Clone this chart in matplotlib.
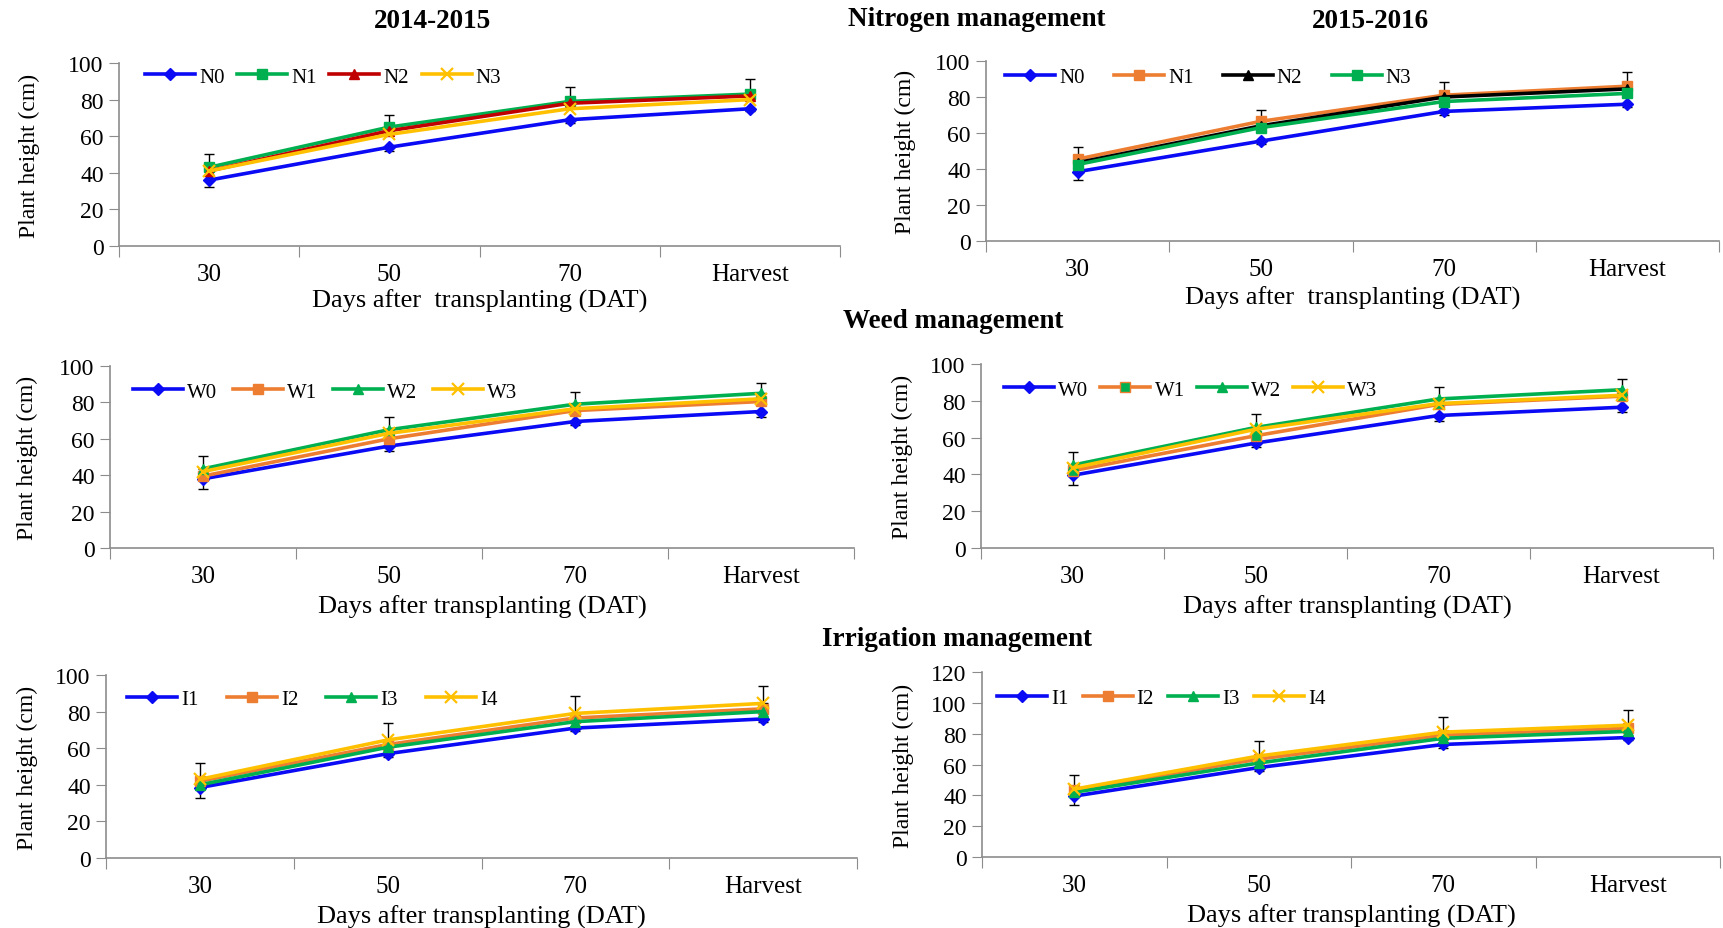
import matplotlib
matplotlib.use("Agg")
import matplotlib.pyplot as plt
import numpy as np

plt.rcParams['font.family'] = ['Liberation Serif', 'DejaVu Serif']

# ---------------- data ----------------
categories = ["30", "50", "70", "Harvest"]

# Nitrogen management 2014-2015
n14_N0 = [36, 54, 69, 75]
n14_N1 = [43, 65, 79, 83]
n14_N2 = [41, 63, 78, 82]
n14_N3 = [41, 61, 75, 80]
n14_err_up = [7.5, 6.5, 8, 8.5]
n14_err_low = [3.5, 2, 2, 1.5]

# Nitrogen management 2015-2016
n15_N0 = [38.5, 55.5, 72, 76]
n15_N1 = [45.5, 66.5, 81, 86]
n15_N2 = [43.5, 64, 80, 84.5]
n15_N3 = [42.5, 63, 77.5, 82]
n15_err_up = [7, 6.5, 7.5, 8]
n15_err_low = [4.5, 1.5, 2, 1.5]

# Weed management 2014-2015
w14_W0 = [38, 56, 69.5, 75]
w14_W1 = [39.5, 60, 75.5, 80.5]
w14_W2 = [43.5, 65, 79, 85]
w14_W3 = [42, 63, 76.5, 82]
w14_err_up = [7, 7, 6.5, 5.5]
w14_err_low = [5.5, 2.5, 2, 2.8]

# Weed management 2015-2016
w15_W0 = [39.5, 57, 72, 76.5]
w15_W1 = [42, 61, 78, 82.5]
w15_W2 = [45, 65.5, 81, 86]
w15_W3 = [43.5, 64.5, 78.5, 83]
w15_err_up = [7, 7.5, 6.5, 6]
w15_err_low = [5.5, 2, 3, 2.5]

# Irrigation management 2014-2015
i14_I1 = [38.5, 57, 71, 76]
i14_I2 = [42, 62, 76.5, 81.5]
i14_I3 = [40, 60.5, 74.5, 80]
i14_I4 = [43, 64.5, 79, 84.5]
i14_err_up = [9, 9.5, 9.5, 9.5]
i14_err_low = [5.5, 2, 1.5, 1.5]

# Irrigation management 2015-2016
i15_I1 = [39.5, 58, 73, 77.5]
i15_I2 = [43.5, 63.5, 79, 83.5]
i15_I3 = [42, 61, 77, 81.5]
i15_I4 = [44, 65.5, 81, 85.5]
i15_err_up = [9.5, 9.5, 9.5, 10]
i15_err_low = [5.5, 2, 2, 1.5]

n_labels = ["N0", "N1", "N2", "N3"]
w_labels = ["W0", "W1", "W2", "W3"]
i_labels = ["I1", "I2", "I3", "I4"]

# ---------------- styles ----------------
BLUE = "#0A0AF5"
GREEN = "#00B050"
RED = "#C00000"
GOLD = "#FFC000"
ORANGE = "#ED7D31"
BLACK = "#000000"
GRAY = "#8C8C8C"

# (line color, marker, face color)
st_n14 = [(BLUE, "D", BLUE), (GREEN, "s", GREEN), (RED, "^", RED), (GOLD, "x", GOLD)]
st_n15 = [(BLUE, "D", BLUE), (ORANGE, "s", ORANGE), (BLACK, "^", BLACK), (GREEN, "s", GREEN)]
st_w14 = [(BLUE, "D", BLUE), (ORANGE, "s", ORANGE), (GREEN, "^", GREEN), (GOLD, "x", GOLD)]
st_w15 = [(BLUE, "D", BLUE), (ORANGE, "s", GREEN), (GREEN, "^", GREEN), (GOLD, "x", GOLD)]
st_i = [(BLUE, "D", BLUE), (ORANGE, "s", ORANGE), (GREEN, "^", GREEN), (GOLD, "x", GOLD)]

W, H = 1723, 929
fig = plt.figure(figsize=(W / 100, H / 100), dpi=100)

def rect(x0, y0, x1, y1):
    return [x0 / W, 1 - y1 / H, (x1 - x0) / W, (y1 - y0) / H]

panels = [
    dict(r=(119, 64, 840, 247), series=[n14_N0, n14_N1, n14_N2, n14_N3], labels=n_labels,
         st=st_n14, up=n14_err_up, low=n14_err_low, top=1, ymax=100, lp=3,
         leg=(145, 78, 0.6), ylab_x=40, xlabel="Days after  transplanting (DAT)"),
    dict(r=(986, 62, 1719, 242), series=[n15_N0, n15_N1, n15_N2, n15_N3], labels=n_labels,
         st=st_n15, up=n15_err_up, low=n15_err_low, top=1, ymax=100, lp=4,
         leg=(1005, 78, 1.4), ylab_x=916, xlabel="Days after  transplanting (DAT)"),
    dict(r=(110, 367, 854, 549), series=[w14_W0, w14_W1, w14_W2, w14_W3], labels=w_labels,
         st=st_w14, up=w14_err_up, low=w14_err_low, top=2, ymax=100, lp=6,
         leg=(133, 393, 0.75), ylab_x=38, xlabel="Days after transplanting (DAT)"),
    dict(r=(981, 365, 1713, 549), series=[w15_W0, w15_W1, w15_W2, w15_W3], labels=w_labels,
         st=st_w15, up=w15_err_up, low=w15_err_low, top=2, ymax=100, lp=6,
         leg=(1004, 391, 0.58), ylab_x=913, xlabel="Days after transplanting (DAT)"),
    dict(r=(106, 676, 857, 859), series=[i14_I1, i14_I2, i14_I3, i14_I4], labels=i_labels,
         st=st_i, up=i14_err_up, low=i14_err_low, top=3, ymax=100, lp=6,
         leg=(127, 700, 1.35), ylab_x=38, xlabel="Days after transplanting (DAT)"),
    dict(r=(982, 673, 1720, 858), series=[i15_I1, i15_I2, i15_I3, i15_I4], labels=i_labels,
         st=st_i, up=i15_err_up, low=i15_err_low, top=3, ymax=120, lp=6,
         leg=(997, 699, 0.67), ylab_x=914, xlabel="Days after transplanting (DAT)"),
]

x = np.arange(len(categories))
for p in panels:
    x0, y0, x1, y1 = p["r"]
    ax = fig.add_axes(rect(x0, y0, x1, y1))
    wpx, hpx = x1 - x0, y1 - y0
    zeros = np.zeros(len(categories))
    # error bars
    ax.errorbar(x, p["series"][p["top"]], yerr=[zeros, p["up"]], fmt="none",
                ecolor="black", elinewidth=1.0, capsize=3.5, capthick=1.0, zorder=1)
    ax.errorbar(x, p["series"][0], yerr=[p["low"], zeros], fmt="none",
                ecolor="black", elinewidth=1.0, capsize=3.5, capthick=1.0, zorder=1)
    for vals, lab, (c, m, fc) in zip(p["series"], p["labels"], p["st"]):
        ms = 8 if m == "x" else (6.5 if m == "D" else 7)
        ax.plot(x, vals, color=c, lw=2.6, marker=m, ms=ms, mfc=fc, mec=c,
                mew=1.6 if m == "x" else 1.0, label=lab, zorder=2)
    ax.set_ylim(0, p["ymax"])
    ax.set_yticks(np.arange(0, p["ymax"] + 1, 20))
    ax.set_xlim(-0.5, len(categories) - 0.5)
    ax.set_xticks(np.arange(-0.5, len(categories), 1.0))
    ax.set_xticklabels([])
    ax.set_xticks(x, minor=True)
    ax.set_xticklabels(categories, minor=True)
    ax.tick_params(axis="x", which="major", length=8, color=GRAY, direction="out")
    ax.tick_params(axis="x", which="minor", length=0, pad=12, labelsize=18)
    ax.tick_params(axis="y", length=7, color=GRAY, direction="out", pad=4, labelsize=17)
    for s in ("top", "right"):
        ax.spines[s].set_visible(False)
    for s in ("left", "bottom"):
        ax.spines[s].set_color(GRAY)
        ax.spines[s].set_linewidth(1.2)
    ax.set_ylabel("Plant height (cm)", fontsize=17)
    ax.yaxis.set_label_coords((p["ylab_x"] - x0) / wpx, 0.5)
    ax.set_xlabel(p["xlabel"], fontsize=19, labelpad=p["lp"])
    lx, ly, cs = p["leg"]
    ax.legend(loc="center left", bbox_to_anchor=((lx - x0) / wpx, 1 - (ly - y0) / hpx),
              ncol=4, frameon=False, fontsize=15, handlelength=2.4, handletextpad=0.2,
              columnspacing=cs, borderpad=0, borderaxespad=0, numpoints=1)

def ftext(px, py, s):
    fig.text(px / W, 1 - py / H, s, ha="center", va="center", fontsize=19.5, fontweight="bold")

ftext(433, 21, "2014-2015")
ftext(977, 20, "Nitrogen management")
ftext(1370, 21, "2015-2016")
ftext(953, 322, "Weed management")
ftext(957, 640, "Irrigation management")

fig.savefig("out.png", dpi=100)
